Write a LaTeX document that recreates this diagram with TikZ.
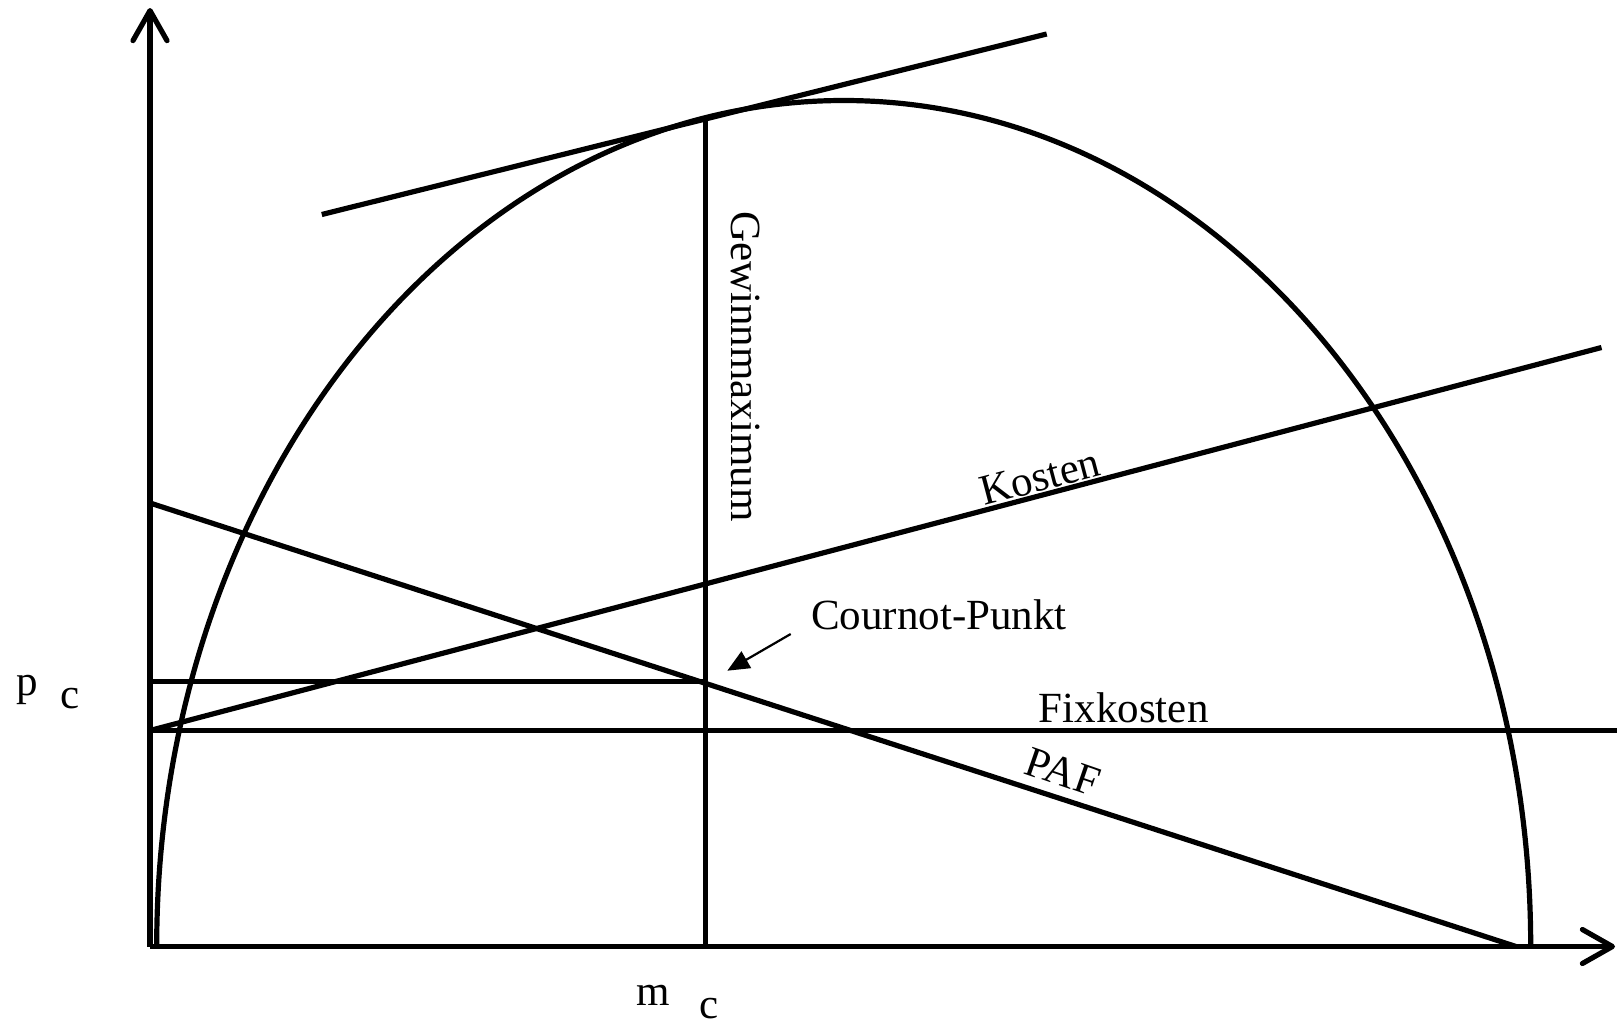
\documentclass[tikz,border=0pt]{standalone}
\usepackage{fontspec}
\setmainfont{Liberation Serif}
\usetikzlibrary{arrows.meta}
\begin{document}
\begin{tikzpicture}[x=1pt,y=-1pt,
  mainline/.style={line width=5.2pt},
  axisline/.style={line width=5.2pt,-{Straight Barb[length=30pt,width=34pt,round]}},
  lbl/.style={inner sep=0pt,font=\fontsize{43}{50}\selectfont}]
\useasboundingbox (0,0) rectangle (1617,1023);
% coordinates
\coordinate (O) at (150,946.5);
\coordinate (ytop) at (150,8);
\coordinate (xend) at (1615,946.5);
\coordinate (tanA) at (321.8,214.5);
\coordinate (tanB) at (1046.7,34);
\coordinate (vtop) at (705.4,119);
\coordinate (vbot) at (705.4,946.5);
\coordinate (kA) at (150,730.5);
\coordinate (kB) at (1601.5,347.5);
\coordinate (pafA) at (150,503);
\coordinate (pafB) at (1516,946.5);
\coordinate (fixA) at (150,730.5);
\coordinate (fixB) at (1617,730.5);
\coordinate (pcA) at (150,681.7);
\coordinate (cp) at (705.4,681.7);
\coordinate (arrS) at (790.7,634);
\coordinate (arrE) at (727.3,670.7);
% axes
\draw[axisline] (O) -- (ytop);
\draw[axisline] (O) -- (xend);
% semi-ellipse
\draw[mainline] (156.7,946.5) arc[start angle=180,end angle=360,x radius=687,y radius=846];
% lines
\draw[mainline] (tanA) -- (tanB);
\draw[mainline] (vtop) -- (vbot);
\draw[mainline] (kA) -- (kB);
\draw[mainline] (pafA) -- (pafB);
\draw[mainline] (fixA) -- (fixB);
\draw[mainline] (pcA) -- (cp);
\draw[line width=2.2pt,-{Triangle[length=22pt,width=19pt]}] (arrS) -- (arrE);
% labels
\node[lbl,anchor=base west] (cournot) at (811,629.3) {Cournot-Punkt};
\node[lbl,anchor=base] (fix) at (1123.7,722.7) {Fixkosten};
\node[lbl,rotate=14.8] (kosten) at (1040,477) {Kosten};
\node[lbl,rotate=-19] (paf) at (1063,772) {PAF};
\node[lbl,rotate=-90,anchor=base west] (gewinn) at (731.7,211) {Gewinnmaximum};
\node[lbl,anchor=base west] (p) at (16.7,695) {p};
\node[lbl,anchor=base west] (pcsub) at (60,708) {c};
\node[lbl,anchor=base west] (m) at (636.7,1005.7) {m};
\node[lbl,anchor=base west] (mcsub) at (699,1018) {c};
\end{tikzpicture}
\end{document}
